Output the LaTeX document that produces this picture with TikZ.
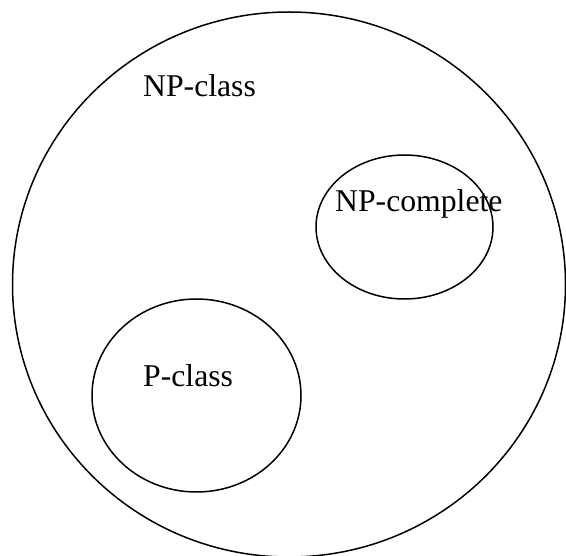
\documentclass[tikz,border=0pt]{standalone}
\usepackage{fontspec}
\setmainfont{Liberation Serif}
\usetikzlibrary{shapes.geometric}
\begin{document}
\begin{tikzpicture}[x=1pt,y=-1pt,
  setshape/.style={ellipse,draw,line width=1.5pt,inner sep=0pt,outer sep=0pt},
  lbl/.style={anchor=base west,inner sep=0pt,font=\fontsize{31.7}{36}\selectfont}]
\useasboundingbox (0,0) rectangle (566,556);
\begin{scope}
\clip (0,0) rectangle (566,556);
\node[setshape,minimum width=553pt,minimum height=545pt] (outer) at (289,284.5) {};
\end{scope}
\node[setshape,minimum width=177pt,minimum height=144pt] (npc) at (404.5,227) {};
\node[setshape,minimum width=209pt,minimum height=193pt] (pcl) at (196.5,395.5) {};
\node[lbl] (npclasslbl) at (143,97) {NP-class};
\node[lbl] (npcomplbl) at (335,212) {NP-complete};
\node[lbl] (pclasslbl) at (143,387) {P-class};
\end{tikzpicture}
\end{document}
